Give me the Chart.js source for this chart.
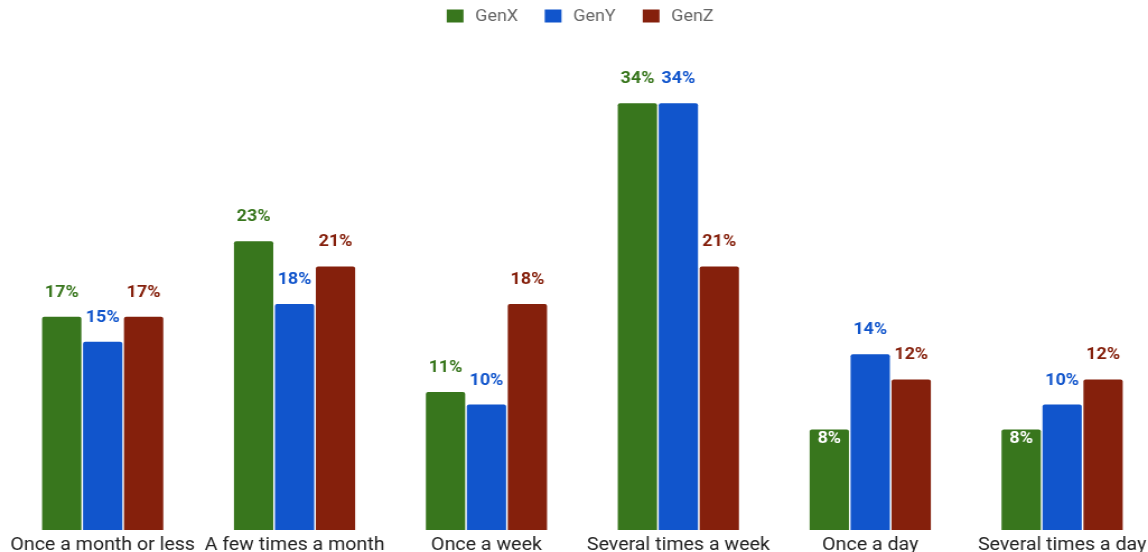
<!DOCTYPE html>
<html>
<head>
<meta charset="utf-8">
<script src="https://cdn.jsdelivr.net/npm/chart.js@4"></script>
<style>
  html, body { margin: 0; padding: 0; background: #fff; overflow: hidden; }
  /* the reference is slightly stretched horizontally */
  #wrap { position: relative; width: 1036px; height: 561px; transform: scaleX(1.12); transform-origin: 0 0; }
</style>
</head>
<body>
<div id="wrap"><canvas id="myChart"></canvas></div>
<script>
var categories = ['Once a month or less', 'A few times a month', 'Once a week', 'Several times a week', 'Once a day', 'Several times a day'];
var genX = [17, 23, 11, 34, 8, 8];
var genY = [15, 18, 10, 34, 14, 10];
var genZ = [17, 21, 18, 21, 12, 12];
var seriesNames = ['GenX', 'GenY', 'GenZ'];
var seriesColors = ['#38761d', '#1155cc', '#85200c'];

// value labels above the bars (white inside the bar for the short ones)
var barLabels = {
  id: 'barLabels',
  afterDatasetsDraw: function(chart) {
    var ctx = chart.ctx;
    ctx.save();
    ctx.font = 'bold 16px Roboto';
    ctx.textAlign = 'center';
    ctx.textBaseline = 'middle';
    chart.data.datasets.forEach(function(ds, i) {
      chart.getDatasetMeta(i).data.forEach(function(bar, j) {
        var v = ds.data[j];
        if (v < 9) {
          ctx.fillStyle = '#ffffff';
          ctx.fillText(v + '%', bar.x, bar.y + 9);
        } else {
          ctx.fillStyle = ds.backgroundColor;
          ctx.fillText(v + '%', bar.x, bar.y - 24);
        }
      });
    });
    ctx.restore();
  }
};

// legend drawn by hand, wider spacing than the built-in one
var topLegend = {
  id: 'topLegend',
  afterDraw: function(chart) {
    var ctx = chart.ctx;
    var step = 87.5, boxW = 15, boxH = 13, gap = 10.5, cy = 16;
    ctx.save();
    ctx.font = '16px Roboto';
    ctx.textBaseline = 'middle';
    ctx.textAlign = 'left';
    var lastW = boxW + gap + ctx.measureText(seriesNames[seriesNames.length - 1]).width;
    var total = step * (seriesNames.length - 1) + lastW;
    var x0 = chart.width / 2 - total / 2;
    seriesNames.forEach(function(name, i) {
      var x = x0 + i * step;
      ctx.fillStyle = seriesColors[i];
      ctx.fillRect(x, cy - boxH / 2, boxW, boxH);
      ctx.fillStyle = '#666666';
      ctx.fillText(name, x + boxW + gap, cy + 1);
    });
    ctx.restore();
  }
};

var ctx = document.getElementById('myChart').getContext('2d');
var myChart = new Chart(ctx, {
  type: 'bar',
  data: {
    labels: categories,
    datasets: [
      { label: seriesNames[0], data: genX, backgroundColor: seriesColors[0] },
      { label: seriesNames[1], data: genY, backgroundColor: seriesColors[1] },
      { label: seriesNames[2], data: genZ, backgroundColor: seriesColors[2] }
    ]
  },
  options: {
    responsive: true,
    maintainAspectRatio: false,
    animation: false,
    layout: { padding: { left: 6, right: 2, top: 28, bottom: 0 } },
    datasets: {
      bar: { categoryPercentage: 0.64, barPercentage: 0.96, borderRadius: 2, borderSkipped: 'bottom' }
    },
    plugins: {
      legend: { display: false },
      tooltip: { enabled: false }
    },
    scales: {
      x: {
        grid: { display: false, drawTicks: false },
        border: { display: false },
        ticks: { color: '#222222', font: { family: 'Roboto', size: 17.5 }, padding: 5, maxRotation: 0, autoSkip: false }
      },
      y: {
        display: false,
        min: 0,
        max: 40
      }
    }
  },
  plugins: [barLabels, topLegend]
});
</script>
</body>
</html>
